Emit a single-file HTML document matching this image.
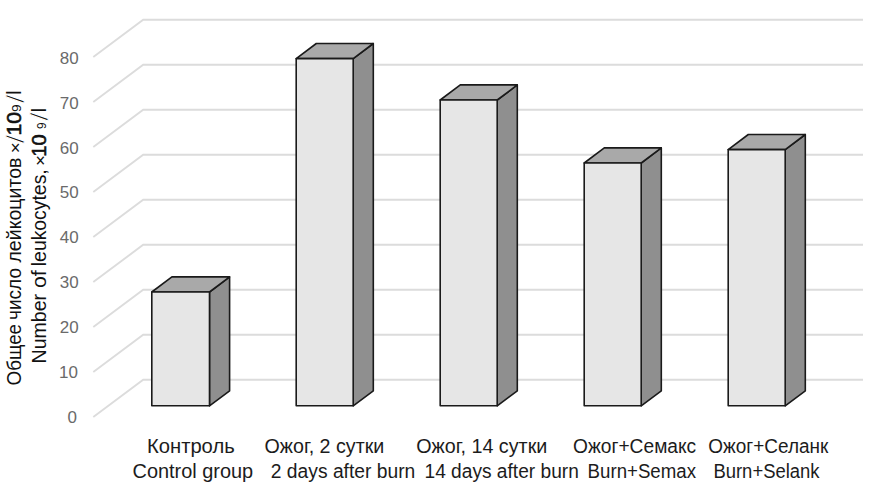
<!DOCTYPE html>
<html lang="ru">
<head>
<meta charset="utf-8">
<title>Общее число лейкоцитов</title>
<style>
html,body{margin:0;padding:0;background:#fff;}
body{width:878px;height:490px;overflow:hidden;}
svg{display:block;}
text{font-family:"Liberation Sans",sans-serif;}
.grid{stroke:#dcdcdc;stroke-width:1.9;fill:none;stroke-linejoin:miter;}
.num{font-size:15.6px;fill:#6a6a6a;text-anchor:end;}
.cat{font-size:19.5px;fill:#1c1c1c;}
.ttl{font-size:19.3px;fill:#111;}
.bar path{stroke:#1a1a1a;stroke-width:1.6;stroke-linejoin:round;}
.f{fill:#e6e6e6;}
.t{fill:#a9a9a9;}
.s{fill:#8f8f8f;}
</style>
</head>
<body>
<svg width="878" height="490" viewBox="0 0 878 490">
<rect width="878" height="490" fill="#fff"/>
<g class="grid">
<path d="M93.3 57.0L143.2 19.8H863"/>
<path d="M93.3 102.0L143.2 64.8H863"/>
<path d="M93.3 147.0L143.2 109.8H863"/>
<path d="M93.3 192.0L143.2 154.8H863"/>
<path d="M93.3 237.0L143.2 199.8H863"/>
<path d="M93.3 282.0L143.2 244.8H863"/>
<path d="M93.3 327.0L143.2 289.8H863"/>
<path d="M93.3 372.0L143.2 334.8H863"/>
<path d="M93.3 417.0L143.2 379.8H863"/>
</g>
<g class="num" transform="translate(78.6 -0.2) scale(1.09 1) translate(-78.6 0)">
<text x="78.6" y="64.0">80</text>
<text x="78.6" y="108.9">70</text>
<text x="78.6" y="153.8">60</text>
<text x="78.6" y="198.6">50</text>
<text x="78.6" y="243.5">40</text>
<text x="78.6" y="288.4">30</text>
<text x="78.6" y="333.3">20</text>
<text x="78.0" y="378.2">10</text>
<text x="77.0" y="423.0">0</text>
</g>
<g class="bar">
<path class="s" d="M209.5 292.0L229.6 276.9V390.9L209.5 405.8Z"/><path class="t" d="M151.8 292.0L171.9 276.9H229.6L209.5 292.0Z"/><path class="f" d="M151.8 292.0H209.5V405.8H151.8Z"/>
</g>
<g class="bar">
<path class="s" d="M353.2 58.6L373.3 43.5V390.9L353.2 405.8Z"/><path class="t" d="M296.2 58.6L316.3 43.5H373.3L353.2 58.6Z"/><path class="f" d="M296.2 58.6H353.2V405.8H296.2Z"/>
</g>
<g class="bar">
<path class="s" d="M497.2 100.0L517.3 84.9V390.9L497.2 405.8Z"/><path class="t" d="M440.2 100.0L460.3 84.9H517.3L497.2 100.0Z"/><path class="f" d="M440.2 100.0H497.2V405.8H440.2Z"/>
</g>
<g class="bar">
<path class="s" d="M641.2 163.0L661.3 147.9V390.9L641.2 405.8Z"/><path class="t" d="M584.2 163.0L604.3 147.9H661.3L641.2 163.0Z"/><path class="f" d="M584.2 163.0H641.2V405.8H584.2Z"/>
</g>
<g class="bar">
<path class="s" d="M785.2 149.6L805.3 134.5V390.9L785.2 405.8Z"/><path class="t" d="M728.2 149.6L748.3 134.5H805.3L785.2 149.6Z"/><path class="f" d="M728.2 149.6H785.2V405.8H728.2Z"/>
</g>
<g class="cat">
<text x="147.0" y="452.7" textLength="87.7" lengthAdjust="spacingAndGlyphs">Контроль</text>
<text x="132.5" y="477.7" textLength="120.7" lengthAdjust="spacingAndGlyphs">Control group</text>
<text x="264.5" y="452.7" textLength="119.8" lengthAdjust="spacingAndGlyphs">Ожог, 2 сутки</text>
<text x="270.8" y="477.7" textLength="144.5" lengthAdjust="spacingAndGlyphs">2 days after burn</text>
<text x="416.2" y="452.7" textLength="131.1" lengthAdjust="spacingAndGlyphs">Ожог, 14 сутки</text>
<text x="424.5" y="477.7" textLength="154.3" lengthAdjust="spacingAndGlyphs">14 days after burn</text>
<text x="573.0" y="452.7" textLength="123.2" lengthAdjust="spacingAndGlyphs">Ожог+Семакс</text>
<text x="587.6" y="477.7" textLength="108.4" lengthAdjust="spacingAndGlyphs">Burn+Semax</text>
<text x="708.3" y="452.7" textLength="120.0" lengthAdjust="spacingAndGlyphs">Ожог+Селанк</text>
<text x="713.4" y="477.7" textLength="106.2" lengthAdjust="spacingAndGlyphs">Burn+Selank</text>
</g>
<g class="ttl">
<text transform="translate(21.1 0) rotate(-90)"><tspan x="-385.4" y="0" textLength="61.4" lengthAdjust="spacingAndGlyphs">Общее</tspan> <tspan x="-320.0" y="0" textLength="52.0" lengthAdjust="spacingAndGlyphs">число</tspan> <tspan x="-262.6" y="0" textLength="105.1" lengthAdjust="spacingAndGlyphs">лейкоцитов</tspan> <tspan x="-153.2" y="0" font-size="16.5" textLength="11.0" lengthAdjust="spacingAndGlyphs">×</tspan><tspan x="-143.6" y="2.5" font-size="23" stroke="#fff" stroke-width="0.8" textLength="8.8" lengthAdjust="spacingAndGlyphs">/</tspan><tspan x="-135.4" y="0" stroke="#111" stroke-width="0.55" textLength="23.4" lengthAdjust="spacingAndGlyphs">10</tspan><tspan x="-111.9" y="0" font-size="13.5" textLength="7.6" lengthAdjust="spacingAndGlyphs">9</tspan><tspan x="-103.2" y="2.5" font-size="23" stroke="#fff" stroke-width="0.8" textLength="8.8" lengthAdjust="spacingAndGlyphs">/</tspan><tspan x="-94.8" y="0" textLength="4.4" lengthAdjust="spacingAndGlyphs">l</tspan></text>
<text transform="translate(45.9 0) rotate(-90)"><tspan x="-363.4" y="0" textLength="69.5" lengthAdjust="spacingAndGlyphs">Number</tspan> <tspan x="-288.1" y="0" textLength="17.8" lengthAdjust="spacingAndGlyphs">of</tspan> <tspan x="-266.2" y="0" textLength="96.9" lengthAdjust="spacingAndGlyphs">leukocytes,</tspan> <tspan x="-165.9" y="0" font-size="16.5" textLength="11.0" lengthAdjust="spacingAndGlyphs">×</tspan><tspan x="-156.7" y="0" stroke="#111" stroke-width="0.55" textLength="22.4" lengthAdjust="spacingAndGlyphs">10</tspan><tspan x="-129.0" y="0" font-size="13.5" textLength="6.6" lengthAdjust="spacingAndGlyphs">9</tspan><tspan x="-120.9" y="2.5" font-size="23" stroke="#fff" stroke-width="0.8" textLength="8.8" lengthAdjust="spacingAndGlyphs">/</tspan><tspan x="-112.3" y="0" textLength="4.4" lengthAdjust="spacingAndGlyphs">l</tspan></text>
</g>
</svg>
</body>
</html>
